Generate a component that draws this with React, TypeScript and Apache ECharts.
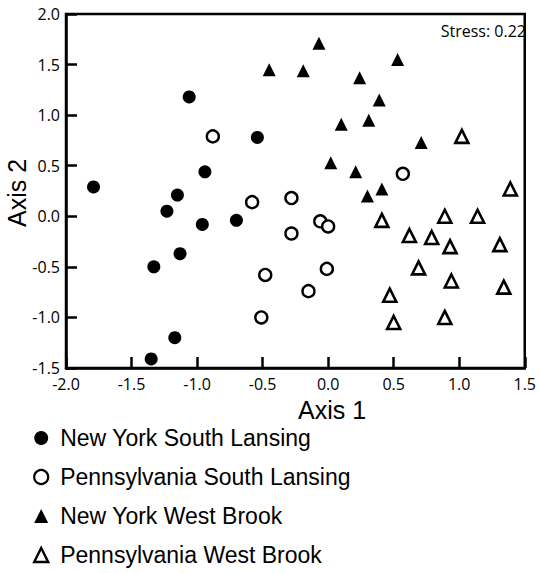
import React, { useEffect, useRef } from "react";
import * as echarts from "echarts";

// Axis 1, Axis 2 coordinates
const nySouthLansing: [number, number][] = [
  [-1.79, 0.29], [-1.06, 1.18], [-0.54, 0.78], [-0.94, 0.44], [-1.15, 0.21],
  [-1.23, 0.05], [-0.96, -0.08], [-0.7, -0.04], [-1.13, -0.37], [-1.33, -0.5],
  [-1.17, -1.2], [-1.35, -1.41],
];
const paSouthLansing: [number, number][] = [
  [-0.88, 0.79], [-0.58, 0.14], [-0.48, -0.58], [-0.51, -1.0], [-0.28, 0.18],
  [-0.28, -0.17], [-0.06, -0.05], [0.0, -0.1], [-0.01, -0.52], [-0.15, -0.74],
  [0.57, 0.42],
];
const nyWestBrook: [number, number][] = [
  [-0.07, 1.71], [-0.45, 1.45], [-0.19, 1.44], [0.53, 1.55], [0.24, 1.37],
  [0.39, 1.15], [0.1, 0.91], [0.31, 0.95], [0.71, 0.73], [0.02, 0.53],
  [0.21, 0.44], [0.41, 0.27], [0.3, 0.2],
];
const paWestBrook: [number, number][] = [
  [1.02, 0.79], [1.39, 0.27], [0.41, -0.04], [0.89, 0.0], [1.14, 0.0],
  [0.62, -0.19], [0.79, -0.21], [0.93, -0.3], [1.31, -0.28], [0.69, -0.51],
  [0.94, -0.64], [1.34, -0.7], [0.47, -0.78], [0.5, -1.05], [0.89, -1.0],
];

const seriesNames = [
  "New York South Lansing",
  "Pennsylvania South Lansing",
  "New York West Brook",
  "Pennsylvania West Brook",
];
const stressText = "Stress: 0.22";
const xAxisTitle = "Axis 1";
const yAxisTitle = "Axis 2";

export default function App() {
  const ref = useRef<HTMLDivElement>(null);
  useEffect(() => {
    if (!ref.current) return;
    const chart = echarts.init(ref.current, undefined, { renderer: "svg" });
    const tickFont = "'Open Sans', sans-serif";
    const arial = "'Liberation Sans', Arial, sans-serif";
    const filled = { color: "#000", opacity: 1 };
    const hollow = { color: "#fff", borderColor: "#000", borderWidth: 2.4, opacity: 1 };
    const axisCommon = {
      axisLine: { show: true, onZero: false, lineStyle: { color: "#000", width: 2.5 } },
      axisTick: { show: true, inside: true, length: 11, lineStyle: { color: "#000", width: 2.5 } },
      splitLine: { show: false },
    };
    const option: any = {
      animation: false,
      backgroundColor: "#fff",
      grid: {
        left: 66,
        right: 6,
        top: 14,
        bottom: 205,
        show: true,
        borderColor: "#000",
        borderWidth: 2.5,
        backgroundColor: "transparent",
      },
      xAxis: {
        type: "value",
        min: -2,
        max: 1.5,
        interval: 0.5,
        ...axisCommon,
        axisLabel: {
          color: "#000",
          fontSize: 16,
          fontFamily: tickFont,
          margin: 8,
          formatter: (v: number) => v.toFixed(1),
        },
      },
      yAxis: {
        type: "value",
        min: -1.5,
        max: 2,
        interval: 0.5,
        ...axisCommon,
        axisLabel: {
          color: "#000",
          fontSize: 16,
          fontFamily: tickFont,
          margin: 6,
          formatter: (v: number) => v.toFixed(1),
        },
      },
      legend: {
        orient: "vertical",
        left: 33,
        top: 426,
        height: 160,
        itemWidth: 14,
        itemHeight: 14,
        itemGap: 15,
        padding: 0,
        textStyle: { color: "#000", fontSize: 23, fontFamily: arial, lineHeight: 24, padding: [0, 0, 0, 7] },
        data: [
          { name: seriesNames[0], icon: "circle", itemStyle: { color: "#000", borderWidth: 0, opacity: 1 } },
          { name: seriesNames[1], icon: "circle", itemStyle: { color: "#fff", borderColor: "#000", borderWidth: 2.2, opacity: 1 } },
          { name: seriesNames[2], icon: "triangle", itemStyle: { color: "#000", borderWidth: 0, opacity: 1 } },
          { name: seriesNames[3], icon: "triangle", itemStyle: { color: "#fff", borderColor: "#000", borderWidth: 2.4, opacity: 1 } },
        ],
      },
      graphic: [
        {
          type: "text",
          x: 332,
          y: 410,
          style: { text: xAxisTitle, fontSize: 25, fontFamily: arial, fill: "#000", align: "center", verticalAlign: "middle" },
        },
        {
          type: "text",
          x: 17,
          y: 193,
          rotation: Math.PI / 2,
          style: { text: yAxisTitle, fontSize: 25, fontFamily: arial, fill: "#000", align: "center", verticalAlign: "middle" },
        },
        {
          type: "text",
          x: 526,
          y: 31,
          style: { text: stressText, fontSize: 16, fontFamily: tickFont, fill: "#000", align: "right", verticalAlign: "middle" },
        },
      ],
      series: [
        { name: seriesNames[0], type: "scatter", symbol: "circle", symbolSize: 13, data: nySouthLansing, itemStyle: filled },
        { name: seriesNames[1], type: "scatter", symbol: "circle", symbolSize: 12, data: paSouthLansing, itemStyle: hollow },
        { name: seriesNames[2], type: "scatter", symbol: "triangle", symbolSize: 13, data: nyWestBrook, itemStyle: filled },
        {
          name: seriesNames[3],
          type: "scatter",
          symbol: "triangle",
          symbolSize: 13,
          data: paWestBrook,
          itemStyle: { color: "#fff", borderColor: "#000", borderWidth: 2.6, opacity: 1 },
        },
      ],
    };
    chart.setOption(option);
    return () => chart.dispose();
  }, []);
  return (
    <div
      ref={ref}
      style={{ position: "fixed", left: 0, top: 0, width: 539, height: 573 }}
    />
  );
}
